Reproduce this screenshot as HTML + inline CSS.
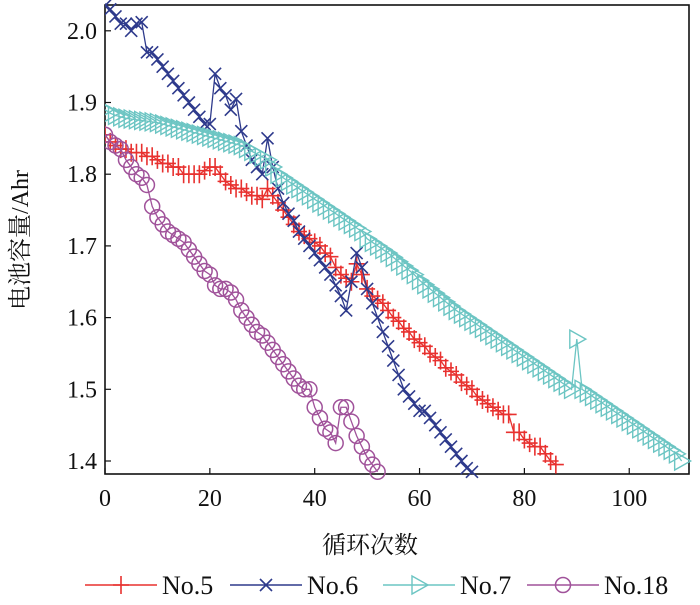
<!DOCTYPE html>
<html><head><meta charset="utf-8"><style>
body{margin:0;background:#fff}
svg text{font-family:"Liberation Serif","Noto Serif CJK SC",serif;fill:#111}
</style></head><body>
<svg id="c" width="700" height="600"></svg>
<script>
const xTicks=[0,20,40,60,80,100];
const yTicks=[1.4,1.5,1.6,1.7,1.8,1.9,2.0];
const no5=[1.855,1.845,1.84,1.835,1.835,1.83,1.83,1.83,1.825,1.825,1.82,1.815,1.815,1.81,1.81,1.80,1.80,1.80,1.80,1.805,1.81,1.81,1.80,1.79,1.785,1.78,1.78,1.775,1.77,1.77,1.765,1.78,1.77,1.76,1.75,1.74,1.73,1.72,1.715,1.71,1.705,1.70,1.69,1.685,1.67,1.66,1.655,1.65,1.675,1.66,1.64,1.63,1.625,1.62,1.61,1.60,1.595,1.585,1.58,1.57,1.565,1.56,1.55,1.545,1.54,1.53,1.525,1.52,1.51,1.505,1.50,1.49,1.485,1.48,1.475,1.47,1.465,1.465,1.44,1.44,1.43,1.425,1.42,1.42,1.41,1.40,1.395];
const no6=[2.035,2.03,2.02,2.01,2.01,2.0,2.01,2.012,1.97,1.97,1.96,1.95,1.94,1.93,1.92,1.91,1.90,1.89,1.88,1.87,1.87,1.94,1.92,1.91,1.89,1.905,1.86,1.84,1.82,1.81,1.80,1.85,1.81,1.78,1.76,1.745,1.735,1.72,1.71,1.70,1.69,1.68,1.67,1.66,1.645,1.63,1.61,1.65,1.69,1.67,1.64,1.62,1.60,1.58,1.56,1.54,1.52,1.50,1.49,1.48,1.47,1.47,1.46,1.45,1.44,1.43,1.42,1.41,1.40,1.39,1.385];
const no7=[1.89,1.885,1.882,1.88,1.878,1.877,1.876,1.875,1.874,1.873,
1.872,1.87,1.868,1.866,1.864,1.862,1.86,1.858,1.856,1.854,
1.852,1.85,1.848,1.846,1.844,1.842,1.84,1.836,1.832,1.828,
1.824,1.82,1.81,1.80,1.795,1.79,1.785,1.78,1.775,1.77,
1.765,1.76,1.755,1.75,1.745,1.74,1.735,1.73,1.725,1.72,
1.71,1.705,1.70,1.695,1.69,1.684,1.678,1.672,1.666,1.66,
1.652,1.646,1.64,1.634,1.628,1.622,1.616,1.61,1.605,1.60,
1.595,1.59,1.585,1.58,1.575,1.57,1.565,1.56,1.555,1.55,
1.545,1.54,1.535,1.53,1.525,1.52,1.515,1.51,1.505,1.50,
1.57,1.50,1.495,1.49,1.485,1.48,1.475,1.47,1.465,1.46,
1.455,1.45,1.445,1.44,1.435,1.43,1.425,1.42,1.415,1.41,1.40];
const no18=[1.855,1.845,1.84,1.835,1.82,1.81,1.80,1.795,1.785,1.755,1.74,1.73,1.72,1.715,1.71,1.705,1.695,1.685,1.675,1.665,1.66,1.645,1.64,1.64,1.635,1.625,1.61,1.60,1.59,1.58,1.575,1.565,1.555,1.545,1.535,1.525,1.515,1.505,1.50,1.50,1.475,1.46,1.445,1.44,1.425,1.475,1.475,1.455,1.435,1.42,1.405,1.395,1.385];
const names=["No.5","No.6","No.7","No.18"];
const colors=["#e8312f","#2e3a8c","#6cc5c3","#a0529a"];
const shapes=["plus","x","tri","circ"];
const L=105,R=689,T=5,B=474;
const X=v=>L+(v-0)/111.4*(R-L);
const Y=v=>461-(v-1.4)/0.1*71.7;
const svg=document.getElementById('c');
const NS='http://www.w3.org/2000/svg';
function mk(t,a,p){const e=document.createElementNS(NS,t);for(const k in a)e.setAttribute(k,a[k]);(p||svg).appendChild(e);return e;}
function marker(s,x,y,c,g){
 if(s==='plus'){return mk('path',{d:`M${x-8},${y}H${x+8}M${x},${y-9}V${y+9}`,stroke:c,'stroke-width':1.6,fill:'none'},g);}
 if(s==='x'){return mk('path',{d:`M${x-6},${y-6}L${x+6},${y+6}M${x-6},${y+6}L${x+6},${y-6}`,stroke:c,'stroke-width':1.6,fill:'none'},g);}
 if(s==='tri'){return mk('path',{d:`M${x-7},${y-9}L${x+9},${y}L${x-7},${y+9}Z`,stroke:c,'stroke-width':1.4,fill:'none'},g);}
 return mk('circle',{cx:x,cy:y,r:7.5,stroke:c,'stroke-width':1.5,fill:'none'},g);
}
const fr=mk('rect',{x:L,y:T,width:R-L,height:B-T,fill:'none',stroke:'#111','stroke-width':1.6});

xTicks.forEach(v=>{
 const t=mk('line',{x1:X(v),x2:X(v),y1:B,y2:B-6,stroke:'#111','stroke-width':1.2});
 
 const l=mk('text',{x:X(v),y:B+32,'text-anchor':'middle','font-size':24});l.textContent=v;
 
});
yTicks.forEach(v=>{
 const t=mk('line',{x1:L,x2:L+6,y1:Y(v),y2:Y(v),stroke:'#111','stroke-width':1.2});
 
 const l=mk('text',{x:L-8,y:Y(v)+8,'text-anchor':'end','font-size':24});l.textContent=v.toFixed(1);
 
});
const clip=mk('clipPath',{id:'cp'});mk('rect',{x:L,y:T-12,width:R-L+14,height:B-T+24},clip);
[no5,no6,no7,no18].forEach((d,i)=>{
 const g=mk('g',{'clip-path':'url(#cp)'});
 
 
 const p=mk('polyline',{points:d.map((v,k)=>X(k)+','+Y(v)).join(' '),fill:'none',stroke:colors[i],'stroke-width':1.3},g);
 
 d.forEach((v,k)=>{const m=marker(shapes[i],X(k),Y(v),colors[i],g);
  });
});
const xt=mk('text',{x:370,y:553,'text-anchor':'middle','font-size':24});xt.textContent='循环次数';

const yt=mk('text',{x:0,y:0,'text-anchor':'middle','font-size':24,transform:'translate(28,240) rotate(-90)'});yt.textContent='电池容量/Ahr';

const lx=[85,230,383,527];
names.forEach((n,i)=>{
 const g=mk('g',{});
 
 mk('line',{x1:lx[i],x2:lx[i]+72,y1:585,y2:585,stroke:colors[i],'stroke-width':1.6},g);
 marker(shapes[i],lx[i]+36,585,colors[i],g);
 const t=mk('text',{x:lx[i]+77,y:594,'font-size':26},g);t.textContent=n;
});
</script>
</body></html>
